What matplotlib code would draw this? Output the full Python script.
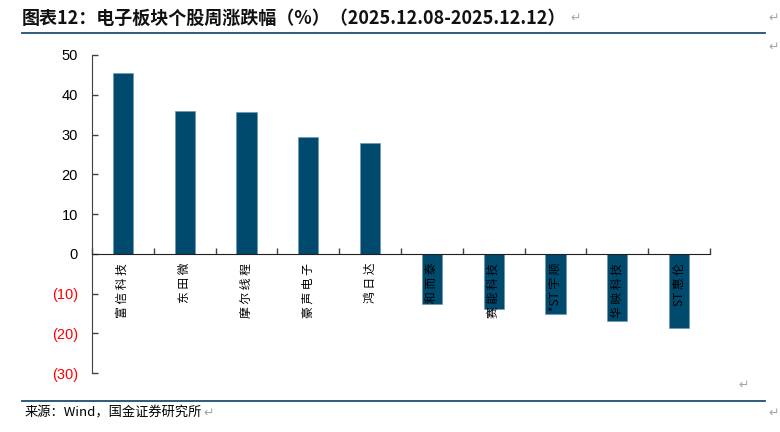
import numpy as np
import matplotlib
matplotlib.use("Agg")
from matplotlib import pyplot as plt
from matplotlib.lines import Line2D

plt.rcParams['font.family'] = ['Noto Sans CJK SC', 'DejaVu Sans']

names = ['富信科技', '东田微', '摩尔线程', '豪声电子', '鸿日达',
         '和而泰', '赛能科技', '*ST宇顺', '华映科技', 'ST惠伦']
chg = [45.5, 35.9, 35.6, 29.3, 27.9, -12.7, -14.0, -15.2, -16.8, -18.7]
yticks = [50, 40, 30, 20, 10, 0, -10, -20, -30]
title = '图表12：电子板块个股周涨跌幅（%）（2025.12.08-2025.12.12）'
source = '来源：Wind，国金证券研究所'

bar_color = '#004a6e'
line_color = '#1b4f72'
mark_color = '#a6a6a6'


def spaced(s):
    # wide letter spacing like the original label font, ascii kept together
    out = ''
    for i, c in enumerate(s):
        out += c
        if i < len(s) - 1 and not (c.isascii() and s[i + 1].isascii()):
            out += ' '
    return out


fig = plt.figure(figsize=(7.8, 4.32), dpi=100)
ax = fig.add_axes([92 / 780, 59 / 432, 618 / 780, 318 / 432])

x = np.arange(len(names))
ax.bar(x, chg, width=0.33, color=bar_color, edgecolor='#6d98b5', linewidth=0.5, zorder=2)

ax.set_xlim(-0.5, len(names) - 0.5)
ax.set_ylim(-30, 50)
ax.set_yticks(yticks)
ax.set_yticklabels([str(v) if v >= 0 else '(%d)' % -v for v in yticks],
                   family=['Liberation Sans', 'DejaVu Sans'], fontsize=10.5)
for lab, v in zip(ax.get_yticklabels(), yticks):
    lab.set_color('red' if v < 0 else 'black')
ax.tick_params(axis='y', direction='in', length=4, width=1, color='#404040', pad=10)

ax.spines['top'].set_visible(False)
ax.spines['right'].set_visible(False)
ax.spines['left'].set_color('#404040')
ax.spines['bottom'].set_position(('data', 0))
ax.spines['bottom'].set_color('#202020')
ax.set_xticks(np.arange(len(names) + 1) - 0.5)
ax.set_xticklabels([])
ax.tick_params(axis='x', direction='in', length=4, width=1, color='#404040')

for i, n in enumerate(names):
    ax.annotate(spaced(n), (i, 0), xytext=(0, -6.5), textcoords='offset points',
                rotation=90, ha='center', va='top', fontsize=8.5, color='black', zorder=3)

# title, rules and source
fig.text(22 / 780, 1 - 18 / 432, title, fontsize=13, fontweight='bold',
         va='center', ha='left', color='#111111')
fig.text(570 / 780, 1 - 18 / 432, '↵', fontsize=9, color=mark_color, va='center')
fig.text(768 / 780, 1 - 18 / 432, '↵', fontsize=9, color=mark_color, va='center')
fig.text(768 / 780, 1 - 47 / 432, '↵', fontsize=9, color=mark_color, va='center')
fig.text(738 / 780, 1 - 385 / 432, '↵', fontsize=9, color=mark_color, va='center')
fig.text(768 / 780, 1 - 413 / 432, '↵', fontsize=9, color=mark_color, va='center')
fig.add_artist(Line2D([22 / 780, 765 / 780], [1 - 33 / 432, 1 - 33 / 432],
                      color=line_color, linewidth=1.3))
fig.add_artist(Line2D([22 / 780, 765 / 780], [1 - 401 / 432, 1 - 401 / 432],
                      color=line_color, linewidth=1.3))
fig.text(25 / 780, 1 - 413 / 432, source, fontsize=9.5, va='center', ha='left', color='black')
fig.text(203 / 780, 1 - 413 / 432, '↵', fontsize=9, color=mark_color, va='center')

fig.savefig('out.png', dpi=100)
